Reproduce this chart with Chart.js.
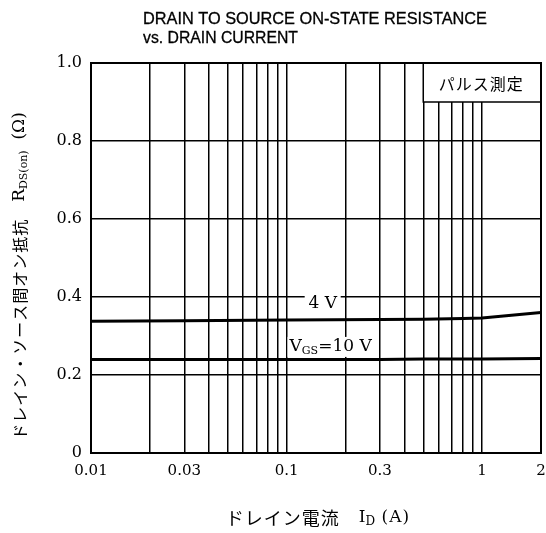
<!DOCTYPE html>
<html>
<head>
<meta charset="utf-8">
<script src="https://cdn.jsdelivr.net/npm/chart.js@4"></script>
<style>
  body { margin: 0; background: #fff; }
  canvas { display: block; }
</style>
</head>
<body>
<canvas id="chart" width="546" height="533"></canvas>
<script>
// drain current (A) and on-state resistance (ohm)
const currents = [0.01, 0.03, 0.1, 0.3, 0.5, 0.8, 1, 2];
const r4V = [0.338, 0.339, 0.341, 0.342, 0.343, 0.345, 0.346, 0.360];
const r10V = [0.240, 0.240, 0.240, 0.240, 0.241, 0.241, 0.241, 0.242];

const xGrid = [0.01, 0.02, 0.03, 0.04, 0.05, 0.06, 0.07, 0.08, 0.09,
  0.1, 0.2, 0.3, 0.4, 0.5, 0.6, 0.7, 0.8, 0.9, 1, 2];
const xLabels = [0.01, 0.03, 0.1, 0.3, 1, 2];
const yTicks = [0, 0.2, 0.4, 0.6, 0.8, 1.0];

const serif = '"DejaVu Serif", "Liberation Serif", serif';
const jp = '"Noto Sans CJK JP", sans-serif';

// text with a subscript part, drawn left to right from x
function drawParts(ctx, parts, x, y) {
  parts.forEach((p) => {
    ctx.font = p.font;
    ctx.letterSpacing = p.spacing || "0px";
    ctx.fillText(p.text, x, y + (p.dy || 0));
    x += ctx.measureText(p.text).width;
  });
  ctx.letterSpacing = "0px";
  return x;
}

function partsWidth(ctx, parts) {
  let w = 0;
  parts.forEach((p) => {
    ctx.font = p.font;
    ctx.letterSpacing = p.spacing || "0px";
    w += ctx.measureText(p.text).width;
  });
  ctx.letterSpacing = "0px";
  return w;
}

// draw a line of text stretched to a given width
function fitText(ctx, text, x, y, width) {
  const w = ctx.measureText(text).width;
  ctx.save();
  ctx.translate(x, y);
  ctx.scale(width / w, 1);
  ctx.fillText(text, 0, 0);
  ctx.lineWidth = 0.3;
  ctx.strokeText(text, 0, 0);
  ctx.restore();
}

const annotations = {
  id: "annotations",
  beforeDatasetsDraw(chart) {
    const { ctx, scales } = chart;
    const x = scales.x, y = scales.y;
    // pulse measurement box
    const left = x.getPixelForValue(0.5);
    const right = chart.chartArea.right;
    const top = chart.chartArea.top;
    const bottom = y.getPixelForValue(0.9);
    ctx.save();
    ctx.fillStyle = "#fff";
    ctx.fillRect(left, top, right - left, bottom - top);
    ctx.strokeStyle = "#000";
    ctx.lineWidth = 1.5;
    ctx.beginPath();
    ctx.moveTo(left, top);
    ctx.lineTo(left, bottom);
    ctx.lineTo(right, bottom);
    ctx.stroke();
    ctx.fillStyle = "#000";
    ctx.font = "16px " + jp;
    ctx.letterSpacing = "1px";
    ctx.textAlign = "center";
    ctx.textBaseline = "middle";
    ctx.fillText("パルス測定", (left + right) / 2 - 1, (top + bottom) / 2 + 1);
    ctx.letterSpacing = "0px";

    // gap in the 0.4 grid line behind "4 V"
    const lx = x.getPixelForValue(0.153);
    const ly = y.getPixelForValue(0.382);
    ctx.fillStyle = "#fff";
    ctx.fillRect(lx - 18, ly - 9, 36, 18);
    ctx.restore();
  },
  afterDatasetsDraw(chart) {
    const { ctx, scales } = chart;
    const x = scales.x, y = scales.y;
    ctx.save();
    ctx.fillStyle = "#000";
    ctx.textBaseline = "middle";

    ctx.font = "17px " + serif;
    ctx.textAlign = "center";
    ctx.fillText("4 V", x.getPixelForValue(0.153), y.getPixelForValue(0.382));

    const vgs = [
      { text: "V", font: "17px " + serif },
      { text: "GS", font: "11px " + serif, dy: 4 },
      { text: "=10 V", font: "17px " + serif },
    ];
    ctx.textAlign = "left";
    const w = partsWidth(ctx, vgs);
    const cx = x.getPixelForValue(0.168);
    const cy = y.getPixelForValue(0.272);
    ctx.fillStyle = "#fff";
    ctx.fillRect(cx - w / 2 - 2, cy - 10, w + 4, 20);
    ctx.fillStyle = "#000";
    drawParts(ctx, vgs, cx - w / 2, cy);

    // frame
    const a = chart.chartArea;
    ctx.strokeStyle = "#000";
    ctx.lineWidth = 2;
    ctx.strokeRect(a.left, a.top, a.right - a.left, a.bottom - a.top);
    ctx.restore();
  },
  afterDraw(chart) {
    const { ctx } = chart;
    ctx.save();
    ctx.fillStyle = "#000";
    ctx.strokeStyle = "#000";
    ctx.textAlign = "left";
    ctx.textBaseline = "alphabetic";
    ctx.font = '16px "Liberation Sans", Arial, sans-serif';
    fitText(ctx, "DRAIN TO SOURCE ON-STATE RESISTANCE", 143, 24, 344);
    fitText(ctx, "vs. DRAIN CURRENT", 143, 43, 155);

    // x axis title
    const xt = [
      { text: "ドレイン電流　", font: "18px " + jp, spacing: "1px" },
      { text: "I", font: "17px " + serif },
      { text: "D", font: "12px " + serif, dy: 4 },
      { text: " (A)", font: "17px " + serif, spacing: "1px" },
    ];
    ctx.textBaseline = "middle";
    const xw = partsWidth(ctx, xt);
    drawParts(ctx, xt, 318 - xw / 2, 518);

    // y axis title, rotated
    const yt = [
      { text: "ドレイン・ソース間オン抵抗　", font: "16px " + jp, spacing: "1px" },
      { text: "R", font: "17px " + serif },
      { text: "DS(on)", font: "11px " + serif, dy: 4 },
      { text: "  (Ω)", font: "17px " + serif },
    ];
    const yw = partsWidth(ctx, yt);
    ctx.translate(20, 276);
    ctx.rotate(-Math.PI / 2);
    drawParts(ctx, yt, -yw / 2, 0);
    ctx.restore();
  },
};

new Chart(document.getElementById("chart"), {
  type: "line",
  data: {
    datasets: [
      {
        label: "4 V",
        data: currents.map((c, i) => ({ x: c, y: r4V[i] })),
        borderColor: "#000",
        borderWidth: 3,
        pointRadius: 0,
        tension: 0,
      },
      {
        label: "VGS = 10 V",
        data: currents.map((c, i) => ({ x: c, y: r10V[i] })),
        borderColor: "#000",
        borderWidth: 3,
        pointRadius: 0,
        tension: 0,
      },
    ],
  },
  options: {
    responsive: false,
    animation: false,
    layout: {
      padding: { top: 63, right: 5, bottom: 0, left: 0 },
    },
    plugins: {
      legend: { display: false },
      tooltip: { enabled: false },
      title: { display: false },
    },
    scales: {
      x: {
        type: "logarithmic",
        min: 0.01,
        max: 2,
        afterBuildTicks: (scale) => {
          scale.ticks = xGrid.map((v) => ({ value: v }));
        },
        afterFit: (scale) => {
          scale.height = 80;
          scale.paddingLeft = 0;
          scale.paddingRight = 0;
        },
        ticks: {
          autoSkip: false,
          maxRotation: 0,
          padding: 9,
          color: "#000",
          font: { family: serif, size: 15 },
          callback: (value) => (xLabels.includes(value) ? String(value) : ""),
        },
        grid: {
          color: "#000",
          lineWidth: 1.5,
          drawTicks: false,
        },
        border: { display: true, color: "#000", width: 2 },
      },
      y: {
        min: 0,
        max: 1,
        afterBuildTicks: (scale) => {
          scale.ticks = yTicks.map((v) => ({ value: v }));
        },
        afterFit: (scale) => {
          scale.width = 91;
          scale.paddingTop = 0;
          scale.paddingBottom = 0;
        },
        ticks: {
          padding: 9,
          color: "#000",
          font: { family: serif, size: 16 },
          callback: (value) => (value === 0 ? "0" : value.toFixed(1)),
        },
        grid: {
          color: "#000",
          lineWidth: 1.5,
          drawTicks: false,
        },
        border: { display: true, color: "#000", width: 2 },
      },
    },
  },
  plugins: [annotations],
});
</script>
</body>
</html>
